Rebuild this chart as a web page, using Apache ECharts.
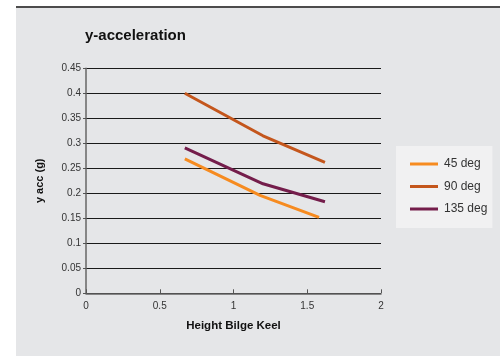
<!DOCTYPE html>
<html>
<head>
<meta charset="utf-8">
<script src="https://cdn.jsdelivr.net/npm/echarts@6/dist/echarts.min.js"></script>
<style>
  html, body { margin: 0; padding: 0; background: #fff; }
  #chart { width: 500px; height: 356px; }
</style>
</head>
<body>
<div id="chart"></div>
<script>
// height of bilge keel (x) vs y acceleration (g)
const seriesNames = ['45 deg', '90 deg', '135 deg']
const colors = ['#f68b20', '#c4561c', '#741d4b']

const heights45 = [0.67, 1.18, 1.58]
const acc45 = [0.269, 0.196, 0.152]

const heights90 = [0.67, 1.2, 1.62]
const acc90 = [0.4, 0.315, 0.262]

const heights135 = [0.67, 1.2, 1.62]
const acc135 = [0.291, 0.219, 0.183]

const xTicks = [0, 0.5, 1, 1.5, 2]
const yTicks = [0, 0.05, 0.1, 0.15, 0.2, 0.25, 0.3, 0.35, 0.4, 0.45]

const pairs = (xs, ys) => xs.map((x, i) => [x, ys[i]])
const allX = [heights45, heights90, heights135]
const allY = [acc45, acc90, acc135]

const chart = echarts.init(document.getElementById('chart'))

const font = 'Liberation Sans, Arial, Helvetica, sans-serif'

const option = {
  animation: false,
  backgroundColor: '#ffffff',
  textStyle: { fontFamily: font },
  graphic: [
    {
      type: 'rect',
      z: -10,
      shape: { x: 16, y: 8, width: 484, height: 348 },
      style: { fill: '#e5e6e8' }
    },
    {
      type: 'line',
      z: -9,
      shape: { x1: 16, y1: 7, x2: 500, y2: 7 },
      style: { stroke: '#111', lineWidth: 1.5 }
    }
  ],
  title: {
    text: 'y-acceleration',
    left: 80,
    top: 23,
    textStyle: { fontSize: 15, fontWeight: 'bold', color: '#111', fontFamily: font }
  },
  legend: {
    orient: 'vertical',
    left: 396,
    top: 146,
    padding: [11, 5, 12, 14],
    backgroundColor: '#f1f1f2',
    itemWidth: 28,
    itemHeight: 3,
    itemGap: 8.5,
    icon: 'rect',
    data: seriesNames,
    textStyle: { fontSize: 12, color: '#333', lineHeight: 14, fontFamily: font, padding: [0, 0, 0, 1] }
  },
  grid: {
    left: 86,
    right: 119,
    top: 68.3,
    bottom: 62.7,
    containLabel: false
  },
  xAxis: {
    type: 'value',
    min: xTicks[0],
    max: xTicks[xTicks.length - 1],
    interval: 0.5,
    name: 'Height Bilge Keel',
    nameLocation: 'middle',
    nameGap: 27,
    nameTextStyle: { fontSize: 11.5, fontWeight: 'bold', color: '#111', fontFamily: font },
    splitLine: { show: false },
    axisLine: { lineStyle: { color: '#666', width: 1.5 } },
    axisTick: { inside: true, length: 4, lineStyle: { color: '#555' } },
    axisLabel: { fontSize: 10, color: '#333', margin: 8, fontFamily: font }
  },
  yAxis: {
    type: 'value',
    min: yTicks[0],
    max: yTicks[yTicks.length - 1],
    interval: 0.05,
    name: 'y acc (g)',
    nameLocation: 'middle',
    nameGap: 41,
    nameRotate: 90,
    nameTextStyle: { fontSize: 11, fontWeight: 'bold', color: '#111', fontFamily: font },
    axisLine: { show: true, lineStyle: { color: '#666', width: 1.5 } },
    axisTick: { show: true, length: 3, lineStyle: { color: '#555' } },
    axisLabel: { fontSize: 10, color: '#333', margin: 5, fontFamily: font },
    splitLine: { lineStyle: { color: '#1a1a1a', width: 1 } }
  },
  series: seriesNames.map((name, i) => ({
    name: name,
    type: 'line',
    data: pairs(allX[i], allY[i]),
    showSymbol: false,
    symbol: 'none',
    lineStyle: { color: colors[i], width: 3 },
    itemStyle: { color: colors[i] }
  }))
}

chart.setOption(option)
</script>
</body>
</html>
